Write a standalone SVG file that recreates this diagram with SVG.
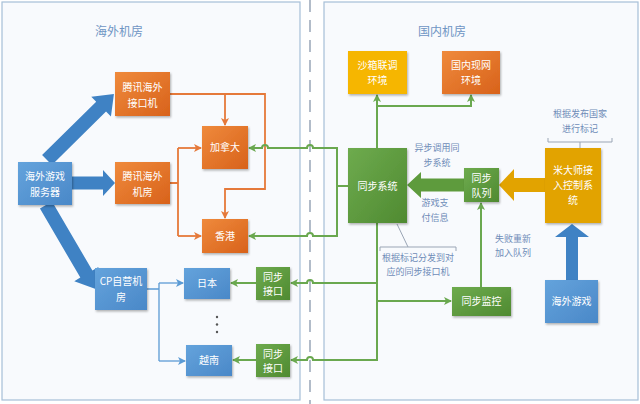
<svg xmlns="http://www.w3.org/2000/svg" width="640" height="404" viewBox="0 0 640 404">
<defs>
<linearGradient id="gOr" x1="0" y1="0" x2="1" y2="1"><stop offset="0" stop-color="#ef8a3c"/><stop offset="1" stop-color="#d8621b"/></linearGradient>
<linearGradient id="gBl" x1="0" y1="0" x2="1" y2="1"><stop offset="0" stop-color="#64a3dc"/><stop offset="1" stop-color="#4a88c8"/></linearGradient>
<linearGradient id="gGr" x1="0" y1="0" x2="1" y2="1"><stop offset="0" stop-color="#6eab4e"/><stop offset="1" stop-color="#4f8a31"/></linearGradient>
<filter id="sh" x="-10%" y="-10%" width="130%" height="130%"><feDropShadow dx="1" dy="1.5" stdDeviation="1" flood-color="#000" flood-opacity="0.3"/></filter>
<marker id="aG" markerWidth="8" markerHeight="8" refX="7" refY="4" orient="auto" markerUnits="userSpaceOnUse"><path d="M0,0 L8,4 L0,8 L2,4 z" fill="#6aa84f"/></marker>
<marker id="aO" markerWidth="8" markerHeight="8" refX="7" refY="4" orient="auto" markerUnits="userSpaceOnUse"><path d="M0,0 L8,4 L0,8 L2,4 z" fill="#e5793a"/></marker>
<marker id="aB" markerWidth="8" markerHeight="8" refX="7" refY="4" orient="auto" markerUnits="userSpaceOnUse"><path d="M0,0 L8,4 L0,8 L2,4 z" fill="#5b9bd5"/></marker>
</defs>
<style>
.panel{fill:#f8fafd;stroke:#a6bfd8;stroke-width:1.2}
.title{font-family:"Noto Sans CJK SC","Liberation Sans",sans-serif;font-size:12px;fill:#6f95c4;text-anchor:middle}
.t{font-family:"Noto Sans CJK SC","Liberation Sans",sans-serif;font-size:10px;fill:#ffffff;text-anchor:middle}
.n{font-family:"Noto Sans CJK SC","Liberation Sans",sans-serif;font-size:9px;fill:#6f8cb8;text-anchor:middle}
.or{fill:url(#gOr);filter:url(#sh)}
.bl{fill:url(#gBl);filter:url(#sh)}
.gr{fill:url(#gGr);filter:url(#sh)}
.ye{fill:#f6b600;filter:url(#sh)}
.go{fill:#e2a300;filter:url(#sh)}
.lg{fill:none;stroke:#6aa84f;stroke-width:2}
.lo{fill:none;stroke:#e5793a;stroke-width:1.8}
.lb{fill:none;stroke:#5b9bd5;stroke-width:1.3}
.br{fill:none;stroke:#9aa5b5;stroke-width:1}
</style>
<rect x="0" y="0" width="640" height="404" fill="#ffffff"/>
<g id="panels">
<rect class="panel" x="2" y="2" width="298" height="398"/>
<rect class="panel" x="324" y="2" width="314" height="398"/>
<line x1="310" y1="0" x2="310" y2="404" stroke="#7f8fa6" stroke-width="1.2" stroke-dasharray="12 8"/>
<text class="title" x="119" y="36">海外机房</text>
<text class="title" x="442" y="36">国内机房</text>
</g>
<g id="connectors">
<!-- fat arrows -->
<polygon fill="#3f82c4" transform="translate(47,160) rotate(-44.6)" points="0,-7 76,-7 76,-14 94,0 76,14 76,7 0,7"/>
<polygon fill="#3f82c4" transform="translate(72,183)" points="0,-6.5 31,-6.5 31,-13 43,0 31,13 31,6.5 0,6.5"/>
<polygon fill="#3f82c4" transform="translate(46,205) rotate(59.7)" points="0,-7 80,-7 80,-14 97,0 80,14 80,7 0,7"/>
<polygon fill="#3f82c4" transform="translate(572,280) rotate(-90)" points="0,-6 43,-6 43,-17 56,0 43,17 43,6 0,6"/>
<polygon fill="#e2a300" transform="translate(545,185) rotate(180)" points="0,-7 31,-7 31,-16 46,0 31,16 31,7 0,7"/>
<polygon fill="#5e9b3d" transform="translate(464,185) rotate(180)" points="0,-6.5 43,-6.5 43,-13 57,0 43,13 43,6.5 0,6.5"/>
<!-- orange -->
<path class="lo" d="M170,94 H265 V189 H225 V218" marker-end="url(#aO)"/>
<path class="lo" d="M225,94 V125" marker-end="url(#aO)"/>
<path class="lo" d="M170,183 H178 M178,148 V236"/>
<path class="lo" d="M178,148 H201" marker-end="url(#aO)"/>
<path class="lo" d="M178,236 H201" marker-end="url(#aO)"/>
<!-- blue thin -->
<path class="lb" d="M147,289 H159 M159,283 V361"/>
<path class="lb" d="M159,283 H183" marker-end="url(#aB)"/>
<path class="lb" d="M159,361 H185" marker-end="url(#aB)"/>
<!-- green -->
<path class="lg" d="M348,186 H337 M337,147 V237"/>
<path class="lg" d="M337,148 H313 A3,3 0 0 0 307,148 H268 A3,3 0 0 0 262,148 H249" marker-end="url(#aG)"/>
<path class="lg" d="M337,236 H313 A3,3 0 0 0 307,236 H249" marker-end="url(#aG)"/>
<path class="lg" d="M377,223 V360 H313 A3,3 0 0 0 307,360 H291" marker-end="url(#aG)"/>
<path class="lg" d="M377,283 H313 A3,3 0 0 0 307,283 H291" marker-end="url(#aG)"/>
<path class="lg" d="M377,301 H451" marker-end="url(#aG)"/>
<path class="lg" d="M256,283 H231" marker-end="url(#aG)"/>
<path class="lg" d="M256,360 H233" marker-end="url(#aG)"/>
<path class="lg" d="M377,148 V95" marker-end="url(#aG)"/>
<path class="lg" d="M377,106 H471 V95" marker-end="url(#aG)"/>
<path class="lg" d="M481,287 V203" marker-end="url(#aG)"/>
<!-- annotation brackets -->
<path class="br" d="M548,138 V142 H612 V138 M580,142 V148"/>
<path class="br" d="M380,251 V247 H456 V251 M408,247 L397,224"/>
</g>
<g id="n-server"><rect class="bl" x="18" y="162" width="54" height="43"/><text class="t" x="45" y="180">海外游戏</text><text class="t" x="45" y="196">服务器</text></g>
<g id="n-txif"><rect class="or" x="115" y="72" width="55" height="44"/><text class="t" x="142.5" y="91">腾讯海外</text><text class="t" x="142.5" y="107">接口机</text></g>
<g id="n-txroom"><rect class="or" x="115" y="162" width="55" height="42"/><text class="t" x="142.5" y="180">腾讯海外</text><text class="t" x="142.5" y="196">机房</text></g>
<g id="n-canada"><rect class="or" x="202" y="126" width="46" height="43"/><text class="t" x="225" y="151">加拿大</text></g>
<g id="n-hk"><rect class="or" x="202" y="219" width="46" height="34"/><text class="t" x="225" y="240">香港</text></g>
<g id="n-cp"><rect class="bl" x="95" y="268" width="52" height="42"/><text class="t" x="121" y="285">CP自营机</text><text class="t" x="121" y="301">房</text></g>
<g id="n-jp"><rect class="bl" x="184" y="268" width="46" height="31"/><text class="t" x="207" y="287">日本</text></g>
<g id="n-dots"><circle cx="217" cy="317" r="1.2" fill="#555"/><circle cx="217" cy="324.5" r="1.2" fill="#555"/><circle cx="217" cy="332" r="1.2" fill="#555"/></g>
<g id="n-vn"><rect class="bl" x="186" y="345" width="46" height="31"/><text class="t" x="209" y="364">越南</text></g>
<g id="n-if1"><rect class="gr" x="256" y="267" width="34" height="33"/><text class="t" x="273" y="281">同步</text><text class="t" x="273" y="295">接口</text></g>
<g id="n-if2"><rect class="gr" x="256" y="344" width="34" height="33"/><text class="t" x="273" y="358">同步</text><text class="t" x="273" y="372">接口</text></g>
<g id="n-sandbox"><rect class="ye" x="348" y="51" width="59" height="43"/><text class="t" x="377.5" y="69">沙箱联调</text><text class="t" x="377.5" y="84">环境</text></g>
<g id="n-live"><rect class="or" x="442" y="51" width="58" height="43"/><text class="t" x="471" y="69">国内现网</text><text class="t" x="471" y="84">环境</text></g>
<g id="n-sync"><rect class="gr" x="348" y="148" width="59" height="75"/><text class="t" x="377.5" y="190">同步系统</text></g>
<g id="n-queue"><rect class="gr" x="464" y="168" width="35" height="34"/><text class="t" x="481.5" y="182">同步</text><text class="t" x="481.5" y="197">队列</text></g>
<g id="n-midas"><rect class="go" x="545" y="148" width="56" height="75"/><text class="t" x="573" y="174">米大师接</text><text class="t" x="573" y="189">入控制系</text><text class="t" x="573" y="204">统</text></g>
<g id="n-game"><rect class="bl" x="545" y="280" width="53" height="43"/><text class="t" x="571.5" y="305">海外游戏</text></g>
<g id="n-monitor"><rect class="gr" x="452" y="287" width="59" height="29"/><text class="t" x="481.5" y="305">同步监控</text></g>
<g id="notes">
<text class="n" x="580" y="117">根据发布国家</text>
<text class="n" x="580" y="132">进行标记</text>
<text class="n" x="437" y="151">异步调用同</text>
<text class="n" x="437" y="166">步系统</text>
<text class="n" x="435" y="206">游戏支</text>
<text class="n" x="435" y="221">付信息</text>
<text class="n" x="513" y="242">失败重新</text>
<text class="n" x="513" y="256">加入队列</text>
<text class="n" x="418" y="261">根据标记分发到对</text>
<text class="n" x="418" y="275">应的同步接口机</text>
</g>
</svg>
